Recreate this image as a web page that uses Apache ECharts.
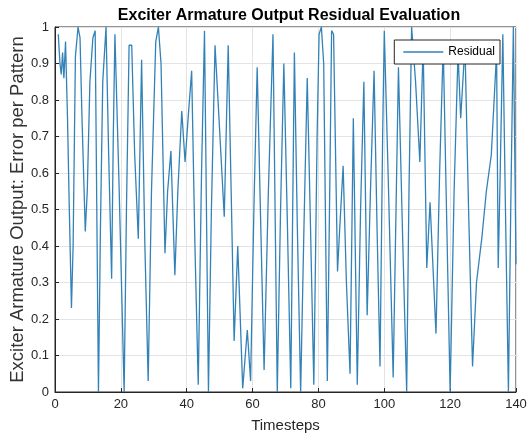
<!DOCTYPE html>
<html>
<head>
<meta charset="utf-8">
<script src="https://cdn.jsdelivr.net/npm/echarts@6/dist/echarts.min.js"></script>
<style>
html,body{margin:0;padding:0;background:#fff;}
#chart{width:529px;height:439px;}
</style>
</head>
<body>
<div id="chart"></div>
<script>
var titleText = 'Exciter Armature Output Residual Evaluation';
var xLabel = 'Timesteps';
var yLabel = 'Exciter Armature Output: Error per Pattern';
var seriesName = 'Residual';
var timesteps = [1,1.5,1.9,2.3,2.7,3.2,3.8,4.3,5.0,5.5,6.2,7.0,7.6,8.2,9.2,9.8,10.6,11.5,12.2,13.2,13.8,14.5,15.5,16.3,17.2,17.7,18.2,19.5,21.0,21.7,22.5,23.3,24.2,25.3,26.3,27.3,28.3,29.3,30.6,31.4,32.2,33.4,34.2,35.2,36.4,37.3,38.5,39.5,40.5,41.5,42.5,43.5,44.5,45.4,46.6,47.5,48.6,49.8,51.4,52.6,53.5,54.4,55.5,57.0,58.4,59.4,60.4,61.4,62.5,63.5,64.8,66.2,67.5,68.5,69.5,70.6,71.6,72.7,73.6,74.6,75.6,76.6,77.6,78.6,79.6,80.2,80.9,81.6,82.7,83.5,84.0,84.6,85.8,86.3,87.5,88.5,89.6,90.6,91.8,92.8,93.8,94.8,95.8,96.9,97.8,98.7,99.5,100.0,101.3,102.7,104.3,105.5,106.8,107.5,108.3,109.5,110.8,111.8,112.9,113.9,115.7,116.8,117.9,119.0,120.0,121.2,122.4,123.2,124.5,125.6,126.8,128.0,129.6,131.0,132.5,134.1,134.6,135.2,136.0,136.8,137.7,138.4,139.2,140.0];
var residual = [0.98,0.90,0.87,0.93,0.86,0.96,0.75,0.52,0.23,0.40,0.92,1.00,0.97,0.75,0.44,0.55,0.85,0.97,0.99,0.00,0.45,0.85,1.00,0.65,0.31,0.70,0.98,0.55,0.00,0.50,0.95,0.95,0.65,0.42,0.91,0.40,0.03,0.55,0.96,1.00,0.90,0.38,0.55,0.66,0.32,0.55,0.77,0.63,0.76,0.88,0.40,0.02,0.60,0.99,0.00,0.50,0.95,0.75,0.48,0.95,0.55,0.14,0.40,0.01,0.17,0.03,0.50,0.89,0.45,0.06,0.55,0.98,0.00,0.50,0.90,0.45,0.01,0.93,0.45,0.00,0.45,0.86,0.45,0.02,0.70,0.98,1.00,0.90,0.03,0.60,0.99,0.98,0.33,0.42,0.62,0.30,0.05,0.75,0.02,0.50,0.85,0.21,0.55,0.88,0.45,0.07,0.70,0.99,0.55,0.04,0.89,0.45,0.00,0.55,1.00,0.85,0.63,0.95,0.34,0.52,0.16,0.60,0.95,0.45,0.00,0.55,0.93,0.75,0.95,0.50,0.07,0.30,0.42,0.55,0.65,0.93,0.34,0.60,0.98,0.50,0.00,0.50,1.00,0.35];

var points = timesteps.map(function(t, i){ return [t, residual[i]]; });
var font = 'Liberation Sans, Arial, sans-serif';
var lineColor = '#3282b8';
var chart = echarts.init(document.getElementById('chart'), null, {renderer:'canvas'});
chart.setOption({
  animation:false,
  backgroundColor:'#fff',
  title:{text:titleText,left:284,textAlign:'center',top:3,
    textStyle:{fontFamily:font,fontSize:16,fontWeight:'bold',color:'#000'}},
  legend:{data:[seriesName],right:29,top:40,orient:'vertical',
    icon:'rect',itemWidth:40,itemHeight:1.3,
    backgroundColor:'#fff',borderColor:'#262626',borderWidth:1,borderRadius:0,
    padding:[6,5,6,9],itemGap:4,
    textStyle:{fontFamily:font,fontSize:12,color:'#000',lineHeight:12}, z:10},
  grid:{left:55,right:13,top:27,bottom:47,show:true,borderColor:'#262626',borderWidth:1,
    containLabel:false,outerBoundsMode:'none'},
  xAxis:{type:'value',min:0,max:140,interval:20,
    name:xLabel,nameLocation:'middle',nameGap:26,nameMoveOverlap:false,
    nameTextStyle:{fontFamily:font,fontSize:15,color:'#262626'},
    axisLine:{show:true,lineStyle:{color:'#262626'}},
    axisTick:{show:true,inside:true,length:4,lineStyle:{color:'#262626'}},
    axisLabel:{fontFamily:font,fontSize:13,color:'#262626',margin:6},
    splitLine:{show:true,lineStyle:{color:'#e3e3e3'}}},
  yAxis:{type:'value',min:0,max:1,interval:0.1,
    name:yLabel,nameLocation:'middle',nameGap:28,nameMoveOverlap:false,
    nameTextStyle:{fontFamily:font,fontSize:18.5,color:'#333'},
    axisLine:{show:true,lineStyle:{color:'#262626'}},
    axisTick:{show:true,inside:true,length:4,lineStyle:{color:'#262626'}},
    axisLabel:{fontFamily:font,fontSize:13,color:'#262626',margin:6,
      formatter:function(v){ return String(Math.round(v*10)/10); }},
    splitLine:{show:true,lineStyle:{color:'#e3e3e3'}}},
  series:[{name:seriesName,type:'line',data:points,symbol:'none',showSymbol:false,
    lineStyle:{color:lineColor,width:1.3},itemStyle:{color:lineColor}}]
});
</script>
</body>
</html>
